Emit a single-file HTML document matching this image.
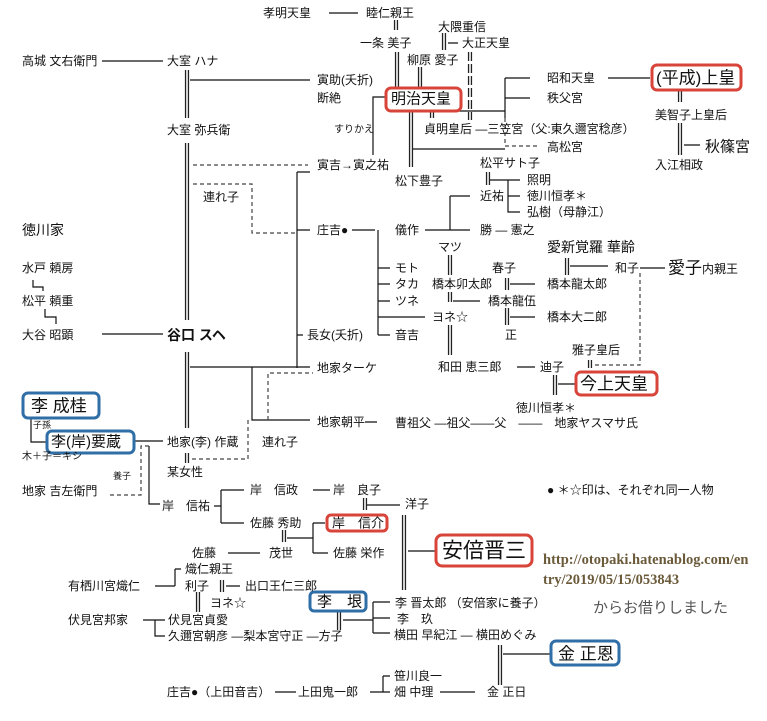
<!DOCTYPE html>
<html><head><meta charset="utf-8"><style>
html,body{margin:0;padding:0;background:#fff}
svg{display:block}
text{font-family:"Liberation Sans","Noto Sans CJK JP",sans-serif;font-size:12px;fill:#111;dominant-baseline:central}
.l{stroke:#111;stroke-width:1.2;fill:none}
.d{stroke:#444;stroke-width:1.2;fill:none;stroke-dasharray:4,3}
.db{stroke:#222;stroke-width:4.2;fill:none}
.dw{stroke:#fff;stroke-width:1.6;fill:none}
.rb{fill:#fff;stroke:#d9443a;stroke-width:3}
.bb{fill:#fff;stroke:#2f6ea6;stroke-width:3}
</style></head><body>
<svg width="767" height="721" viewBox="0 0 767 721" xmlns="http://www.w3.org/2000/svg">
<g id="dbl">
<path class="db" d="M396 20V30 M444 33V50 M397 52V88 M420 67V88 M187 70V118 M187 143V320 M187 352V428 M187 453V463 M411 112V167 M432 110V118 M680 90V102 M680 123V155 M488 172V185 M450 255V275 M450 292V302 M450 325V355 M507 278V290 M507 308V325 M567 258V275 M590 360V368 M555 375V395 M365 498V510 M404 515V590 M284 530V542 M222 580V592 M198 592V612 M339 611V630 M500 645V685"/>
<path class="dw" d="M396 20V30 M444 33V50 M397 52V88 M420 67V88 M187 70V118 M187 143V320 M187 352V428 M187 453V463 M411 112V167 M432 110V118 M680 90V102 M680 123V155 M488 172V185 M450 255V275 M450 292V302 M450 325V355 M507 278V290 M507 308V325 M567 258V275 M590 360V368 M555 375V395 M365 498V510 M404 515V590 M284 530V542 M222 580V592 M198 592V612 M339 611V630 M500 645V685"/>
<path class="db" d="M470 52V120"/><path class="dw" d="M470 52V120"/><path stroke="#fff" stroke-width="5" stroke-dasharray="3,9" stroke-dashoffset="-9" d="M470 52V120"/>
</g>
<path class="l" d="M329 13H358 M448 43H458 M102 61H163 M190 80H310 M373 155V97H386 M413 149H505 M435 111H505 M505 78V118 M505 78H530 M505 98H530 M608 78H650 M684 145H700 M490 180H520 M508 180V212H520 M508 196H520 M450 196V230 M450 196H470 M425 230H470 M352 230H375 M378 230V335 M378 268H390 M378 284H390 M378 301H390 M378 317H425 M378 335H390 M297 172V368 M297 172H310 M297 230H310 M297 335H303 M453 301H480 M510 284H535 M510 317H535 M570 266H608 M640 268H665 M517 367H535 M558 384H575 M190 367H310 M252 367V420H310 M365 422H377 M102 334H163 M134 441H163 M149 446V504H160 M214 506H221 M221 490V523 M221 490H244 M221 523H244 M313 490H330 M367 505H400 M408 551H436 M287 538H313 M313 523V553 M313 523H325 M313 553H328 M228 553H260 M155 586H175 M175 569V586 M175 569H181 M226 586H240 M143 620H155 M155 620V636H165 M155 620H165 M343 620H373 M373 602V633 M373 602H390 M373 618H390 M373 633H390 M503 654H550 M383 676V692 M383 676H390 M370 692H390 M275 692H296 M440 692H475 M31 418V442H47 M33 280V287H43V291 M45 309V317H56V324"/>
<path class="d" d="M505 118V146H537 M193 165H308 M193 184H252V233H297 M640 273V365H592 M268 420V373H313 M248 420V459H192 M110 495H141V446H152"/>
<rect class="rb" x="386" y="88" width="75" height="23" rx="5"/>
<rect class="rb" x="652" y="65" width="89" height="25" rx="5"/>
<rect class="rb" x="576" y="372" width="81" height="23" rx="5"/>
<rect class="rb" x="327" y="515" width="60" height="16" rx="4"/>
<rect class="rb" x="436" y="535" width="96" height="31" rx="6"/>
<rect class="bb" x="23" y="393" width="76" height="25" rx="5"/>
<rect class="bb" x="47" y="431" width="87" height="22" rx="5"/>
<rect class="bb" x="310" y="592" width="56" height="19" rx="4"/>
<rect class="bb" x="551" y="641" width="68" height="24" rx="5"/>
<text x="263" y="13">孝明天皇</text>
<text x="366" y="13">睦仁親王</text>
<text x="360" y="43">一条 美子</text>
<text x="438" y="27">大隈重信</text>
<text x="462" y="43">大正天皇</text>
<text x="407" y="60">柳原 愛子</text>
<text x="22" y="61">高城 文右衛門</text>
<text x="167" y="61">大室 ハナ</text>
<text x="317" y="80">寅助(夭折)</text>
<text x="317" y="98">断絶</text>
<text x="391" y="99" style="font-size:15px">明治天皇</text>
<text x="334" y="130" style="font-size:10px">すりかえ</text>
<text x="167" y="130">大室 弥兵衛</text>
<text x="424" y="129">貞明皇后 ―三笠宮（父:東久邇宮稔彦）</text>
<text x="547" y="78">昭和天皇</text>
<text x="547" y="98">秩父宮</text>
<text x="547" y="147">高松宮</text>
<text x="656" y="78" style="font-size:17px">(平成)上皇</text>
<text x="655" y="115">美智子上皇后</text>
<text x="705" y="147" style="font-size:15px">秋篠宮</text>
<text x="655" y="165">入江相政</text>
<text x="317" y="165">寅吉→寅之祐</text>
<text x="395" y="181">松下豊子</text>
<text x="480" y="163">松平サト子</text>
<text x="527" y="180">照明</text>
<text x="527" y="196">徳川恒孝＊</text>
<text x="527" y="212">弘樹（母静江）</text>
<text x="480" y="196">近祐</text>
<text x="480" y="230">勝 ― 憲之</text>
<text x="203" y="197">連れ子</text>
<text x="22" y="230" style="font-size:14px">徳川家</text>
<text x="317" y="230">庄吉●</text>
<text x="395" y="230">儀作</text>
<text x="438" y="247">マツ</text>
<text x="547" y="247" style="font-size:14px">愛新覚羅 華齢</text>
<text x="22" y="268">水戸 頼房</text>
<text x="395" y="268">モト</text>
<text x="492" y="268">春子</text>
<text x="615" y="268">和子</text>
<text x="668" y="268" style="font-size:17px">愛子</text>
<text x="702" y="269">内親王</text>
<text x="395" y="284">タカ</text>
<text x="432" y="284">橋本卯太郎</text>
<text x="547" y="284">橋本龍太郎</text>
<text x="22" y="301">松平 頼重</text>
<text x="395" y="301">ツネ</text>
<text x="488" y="301">橋本龍伍</text>
<text x="432" y="317">ヨネ☆</text>
<text x="547" y="317">橋本大二郎</text>
<text x="22" y="335">大谷 昭顕</text>
<text x="167" y="335" style="font-size:14px;font-weight:bold">谷口 スヘ</text>
<text x="307" y="335">長女(夭折)</text>
<text x="395" y="335">音吉</text>
<text x="505" y="335">正</text>
<text x="572" y="350">雅子皇后</text>
<text x="317" y="368">地家ターケ</text>
<text x="438" y="367">和田 恵三郎</text>
<text x="540" y="367">迪子</text>
<text x="580" y="384" style="font-size:17px">今上天皇</text>
<text x="31" y="406" style="font-size:17px">李 成桂</text>
<text x="516" y="408">徳川恒孝＊</text>
<text x="317" y="422">地家朝平</text>
<text x="395" y="423">曹祖父 ―祖父――父　――　地家ヤスマサ氏</text>
<text x="33" y="425" style="font-size:9px">子孫</text>
<text x="51" y="442" style="font-size:15px">李(岸)要蔵</text>
<text x="167" y="442">地家(李) 作蔵</text>
<text x="262" y="442">連れ子</text>
<text x="22" y="457" style="font-size:10px">木＋子＝キシ</text>
<text x="167" y="472">某女性</text>
<text x="113" y="476" style="font-size:9px">養子</text>
<text x="547" y="490">● ＊☆印は、それぞれ同一人物</text>
<text x="22" y="491">地家 吉左衛門</text>
<text x="250" y="490">岸　信政</text>
<text x="333" y="490">岸　良子</text>
<text x="405" y="504">洋子</text>
<text x="162" y="506">岸　信祐</text>
<text x="250" y="523">佐藤 秀助</text>
<text x="332" y="523" style="font-size:13px">岸　信介</text>
<text x="442" y="551" style="font-size:21px">安倍晋三</text>
<text x="192" y="553">佐藤</text>
<text x="269" y="553">茂世</text>
<text x="333" y="553">佐藤 栄作</text>
<text x="543" y="560" style="font-family:'Liberation Serif',serif;font-size:14.5px;font-weight:bold;fill:#6b5a3a">http://otopaki.hatenablog.com/en</text>
<text x="543" y="580" style="font-family:'Liberation Serif',serif;font-size:14.5px;font-weight:bold;fill:#6b5a3a">try/2019/05/15/053843</text>
<text x="185" y="569">熾仁親王</text>
<text x="68" y="586">有栖川宮熾仁</text>
<text x="185" y="586">利子</text>
<text x="245" y="586">出口王仁三郎</text>
<text x="210" y="603">ヨネ☆</text>
<text x="317" y="602" style="font-size:15px">李　垠</text>
<text x="395" y="603">李 晋太郎 （安倍家に養子）</text>
<text x="593" y="608" style="font-size:15px;fill:#555">からお借りしました</text>
<text x="68" y="620">伏見宮邦家</text>
<text x="168" y="620">伏見宮貞愛</text>
<text x="397" y="619">李　玖</text>
<text x="168" y="636">久邇宮朝彦 ―梨本宮守正 ―方子</text>
<text x="394" y="635">横田 早紀江 ― 横田めぐみ</text>
<text x="558" y="654" style="font-size:17px">金 正恩</text>
<text x="394" y="676">笹川良一</text>
<text x="167" y="692">庄吉●（上田音吉）</text>
<text x="298" y="692">上田鬼一郎</text>
<text x="394" y="692">畑 中理</text>
<text x="487" y="692">金 正日</text>
</svg>
</body></html>
